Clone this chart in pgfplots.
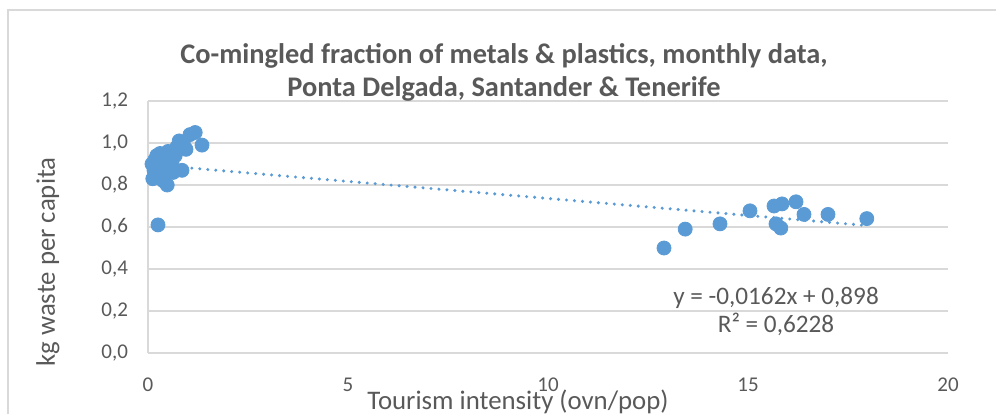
\documentclass[border=0pt]{standalone}
\usepackage{fontspec}
\setmainfont{Carlito}
\usepackage{pgfplots}
\pgfplotsset{compat=1.18}
\definecolor{mblue}{HTML}{5B9BD5}
\definecolor{tgray}{HTML}{595959}
\definecolor{ggray}{HTML}{D9D9D9}
\begin{document}
\begin{tikzpicture}[x=1pt,y=1pt]
\useasboundingbox (0,0) rectangle (498,207);
\draw[ggray, line width=0.6pt] (4,0) -- (4,202) -- (498,202);
\begin{axis}[
  at={(74pt,30.5pt)}, anchor=south west,
  scale only axis, width=400pt, height=126pt,
  xmin=0, xmax=20, ymin=0, ymax=1.2,
  xtick={0,5,10,15,20},
  ytick={0,0.2,0.4,0.6,0.8,1.0,1.2},
  axis x line*=bottom,
  axis y line*=left,
  x axis line style={draw=none},
  y axis line style={ggray, line width=0.75pt, -},
  ymajorgrids,
  grid style={ggray, line width=0.75pt},
  major tick length=0pt,
  tick label style={font=\fontsize{10.5}{12}\selectfont, text=tgray},
  /pgf/number format/assume math mode=true,
  yticklabel style={/pgf/number format/fixed, /pgf/number format/fixed zerofill,
    /pgf/number format/precision=1, /pgf/number format/use comma,
    anchor=east, xshift=-6.5pt},
  xticklabel style={anchor=north, yshift=-9pt},
  title={Co-mingled fraction of metals \& plastics, monthly data,\\Ponta Delgada, Santander \& Tenerife},
  title style={at={(axis description cs:0.445,1.208)}, anchor=north, align=center,
    font=\fontsize{14.2}{16.5}\selectfont\bfseries, text=tgray},
  xlabel={Tourism intensity (ovn/pop)},
  xlabel style={at={(axis description cs:0.4625,-0.226)}, anchor=base,
    font=\fontsize{13.4}{15}\selectfont, text=tgray},
  ylabel={kg waste per capita},
  ylabel style={at={(axis description cs:-0.125,0.361)}, anchor=center,
    font=\fontsize{13.4}{15}\selectfont, text=tgray},
  clip=false,
]
\addplot[only marks, mark=*, mark size=3.5pt, mark options={fill=mblue, draw=mblue}]
coordinates {
(0.10,0.90)(0.12,0.83)(0.15,0.87)(0.17,0.92)(0.20,0.88)(0.22,0.94)(0.25,0.84)
(0.28,0.91)(0.30,0.95)(0.33,0.86)(0.38,0.82)(0.40,0.89)(0.45,0.93)(0.48,0.80)
(0.50,0.96)(0.55,0.88)(0.60,0.91)(0.63,0.86)(0.68,0.94)(0.72,0.98)(0.78,1.01)
(0.85,0.87)(0.88,1.00)(0.95,0.97)(1.05,1.04)(1.18,1.05)(1.35,0.99)(0.25,0.61)
(12.9,0.50)(13.43,0.59)(14.3,0.615)(15.05,0.677)(15.65,0.70)(15.85,0.71)
(16.2,0.72)(16.4,0.66)(17.0,0.66)(17.97,0.64)(15.7,0.615)(15.82,0.595)
};
\addplot[mblue, line width=1.7pt, line cap=round, dash pattern=on 0pt off 4pt]
coordinates {(0.10,0.8964)(17.97,0.6069)};
\node[align=center, text=tgray, font=\fontsize{12.6}{14}\selectfont]
  at (axis cs:15.7,0.2) {y = -0,0162x + 0,898\\R² = 0,6228};
\end{axis}
\end{tikzpicture}
\end{document}
